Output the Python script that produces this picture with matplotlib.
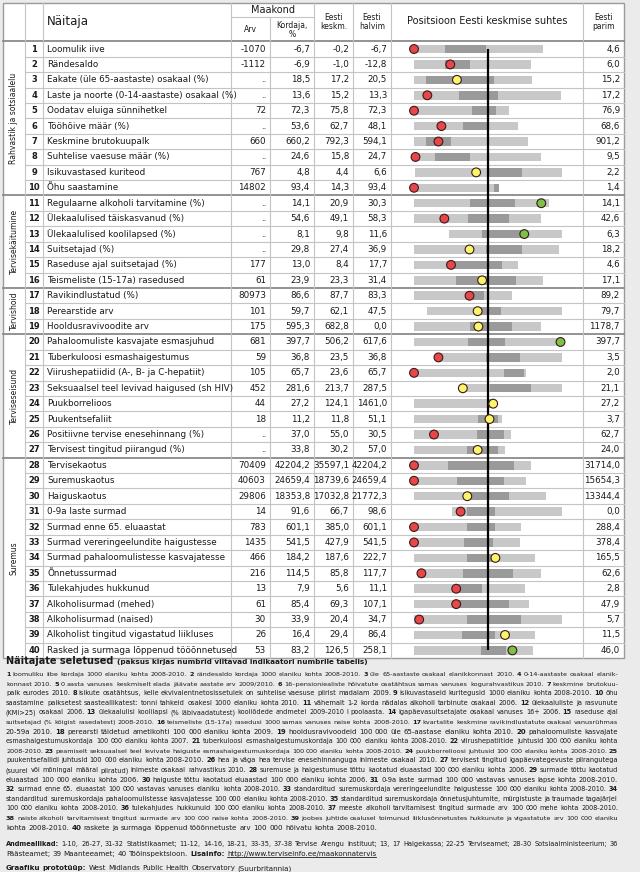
import matplotlib
matplotlib.use("Agg")
import matplotlib.pyplot as plt
import numpy as np

plt.rcParams['font.family'] = ['Liberation Sans Narrow', 'DejaVu Sans']

# ---------------------------------------------------------------------------
# Table data

names = ["Loomulik iive", "Rändesaldo", "Eakate (üle 65-aastaste) osakaal (%)",
         "Laste ja noorte (0-14-aastaste) osakaal (%)", "Oodatav eluiga sünnihetkel",
         "Tööhõive määr (%)", "Keskmine brutokuupalk", "Suhtelise vaesuse määr (%)",
         "Isikuvastased kuriteod", "Õhu saastamine",
         "Regulaarne alkoholi tarvitamine (%)", "Ülekaalulised täiskasvanud (%)",
         "Ülekaalulised koolilapsed (%)", "Suitsetajad (%)",
         "Raseduse ajal suitsetajad (%)", "Teismeliste (15-17a) rasedused",
         "Ravikindlustatud (%)", "Perearstide arv", "Hooldusravivoodite arv",
         "Pahaloomuliste kasvajate esmasjuhud", "Tuberkuloosi esmashaigestumus",
         "Viirushepatiidid (A-, B- ja C-hepatiit)", "Seksuaalsel teel levivad haigused (sh HIV)",
         "Puukborrelioos", "Puukentsefaliit", "Positiivne tervise enesehinnang (%)",
         "Tervisest tingitud piirangud (%)",
         "Tervisekaotus", "Suremuskaotus", "Haiguskaotus", "0-9a laste surmad",
         "Surmad enne 65. eluaastat", "Surmad vereringeelundite haigustesse",
         "Surmad pahaloomulistesse kasvajatesse", "Õnnetussurmad",
         "Tulekahjudes hukkunud", "Alkoholisurmad (mehed)", "Alkoholisurmad (naised)",
         "Alkoholist tingitud vigastatud liikluses", "Rasked ja surmaga lõppenud tööõnnetused"]

arv = ["-1070", "-1112", "..", "..", "72", "..", "660", "..", "767", "14802",
       "..", "..", "..", "..", "177", "61", "80973", "101", "175",
       "681", "59", "105", "452", "44", "18", "..", "..",
       "70409", "40603", "29806", "14", "783", "1435", "466", "216", "13", "61", "30", "26", "53"]

kordaja = ["-6,7", "-6,9", "18,5", "13,6", "72,3", "53,6", "660,2", "24,6", "4,8", "93,4",
           "14,1", "54,6", "8,1", "29,8", "13,0", "23,9", "86,6", "59,7", "595,3",
           "397,7", "36,8", "65,7", "281,6", "27,2", "11,2", "37,0", "33,8",
           "42204,2", "24659,4", "18353,8", "91,6", "601,1", "541,5", "184,2", "114,5",
           "7,9", "85,4", "33,9", "16,4", "83,2"]

keskm = ["-0,2", "-1,0", "17,2", "15,2", "75,8", "62,7", "792,3", "15,8", "4,4", "14,3",
         "20,9", "49,1", "9,8", "27,4", "8,4", "23,3", "87,7", "62,1", "682,8",
         "506,2", "23,5", "23,6", "213,7", "124,1", "11,8", "55,0", "30,2",
         "35597,1", "18739,6", "17032,8", "66,7", "385,0", "427,9", "187,6", "85,8",
         "5,6", "69,3", "20,4", "29,4", "126,5"]

halvim = ["-6,7", "-12,8", "20,5", "13,3", "72,3", "48,1", "594,1", "24,7", "6,6", "93,4",
          "30,3", "58,3", "11,6", "36,9", "17,7", "31,4", "83,3", "47,5", "0,0",
          "617,6", "36,8", "65,7", "287,5", "1461,0", "51,1", "30,5", "57,0",
          "42204,2", "24659,4", "21772,3", "98,6", "601,1", "541,5", "222,7", "117,7",
          "11,1", "107,1", "34,7", "86,4", "258,1"]

parim = ["4,6", "6,0", "15,2", "17,2", "76,9", "68,6", "901,2", "9,5", "2,2", "1,4",
         "14,1", "42,6", "6,3", "18,2", "4,6", "17,1", "89,2", "79,7", "1178,7",
         "397,7", "3,5", "2,0", "21,1", "27,2", "3,7", "62,7", "24,0",
         "31714,0", "15654,3", "13344,4", "0,0", "288,4", "378,4", "165,5", "62,6",
         "2,8", "47,9", "5,7", "11,5", "46,0"]

groups = [("Rahvastik ja sotsiaalelu", 1, 10), ("Tervisekäitumine", 11, 16),
          ("Tervishoid", 17, 19), ("Terviseseisund", 20, 27), ("Suremus", 28, 40)]

# spine chart, position relative to Estonian average (0), worst end = -100
bar_lo = [-100, -100, -100, -100, -100, -100, -100, -98, -98, -100,
          -100, -100, -53, -100, -100, -100, -100, -82, -100,
          -100, -67, -100, -34, -100, -100, -100, -100,
          -100, -100, -100, -48, -100, -100, -100, -94, -100, -100, -100, -100, -100]
bar_hi = [75, 58, 59, 98, 29, 40, 54, 71, 100, 15,
          82, 71, 100, 96, 41, 75, 32, 100, 72,
          100, 100, 52, 100, 3, 19, 31, 23,
          58, 52, 78, 100, 44, 43, 64, 72, 50, 56, 100, 64, 61]
q_lo = [-58, -58, -84, -39, -21, -34, -84, -71, 0, 8,
        -25, -27, -8, -3, -50, -43, -25, -14, -25,
        -27, -3, 22, 3, 0, -13, -15, -29,
        -54, -42, -28, -29, -28, -32, -29, -34, -43, -43, -29, -35, -9]
q_hi = [-3, -25, 8, 14, 11, 0, -50, -25, 46, 15,
        36, 29, 47, 46, 19, 38, -6, 17, 33,
        23, 43, 48, 58, 8, 13, 22, 13,
        35, 21, 29, 9, 9, 7, 8, 34, -8, 28, 44, 9, 25]
dot = [-100, -51, -42, -82, -100, -63, -67, -98, -16, -100,
       72, -59, 49, -25, -50, -8, -25, -14, -13,
       98, -67, -100, -34, 7, 2, -73, -14,
       -100, -100, -28, -37, -100, -100, 10, -90, -43, -43, -93, 23, 33]
status = list("rryrrrrryr" "grgyry" "ryy" "grryyyry" "rryrrryrrrryg")

notes = [
    "**1** loomuliku iibe kordaja 1000 elaniku kohta 2008-2010. **2** rändesaldo kordaja 1000 elaniku kohta 2008-2010. **3** üle 65-aastaste osakaal elanikkonnast 2010. **4** 0-14-aastaste osakaal elanik-",
    "konnast 2010. **5** 0 aasta vanuses keskmiselt elada jäävate aastate arv 2009/2010. **6** 16–pensioniealiste hõivatute osatähtsus samas vanuses kogurahvastikus 2010. **7** keskmine brutokuu-",
    "palk eurodes 2010. **8** isikute osatähtsus, kelle ekvivalentnetosissetulek on suhtelise vaesuse piirist madalam 2009. **9** isikuvastaseid kuritegusid 1000 elaniku kohta 2008-2010. **10** õhu",
    "saastamine paiksetest saasteallikatest: tonni tahkeid osakesi 1000 elaniku kohta 2010. **11** vähemalt 1-2 korda nädalas alkoholi tarbinute osakaal 2006. **12** ülekaaluliste ja rasvunute",
    "(KMI>25) osakaal 2006. **13** ülekaalulisi koolilapsi (% läbivaadatutest) kooliõdede andmetel 2009-2010 I poolaasta. **14** igapäevasuitsetajate osakaal vanuses 16+ 2006. **15** raseduse ajal",
    "suitsetajad (% kõigist rasedatest) 2008-2010. **16** teismeliste (15-17a) rasedusi 1000 samas vanuses naise kohta 2008-2010. **17** kvartalite keskmine ravikindlustatute osakaal vanusrühmas",
    "20-59a 2010. **18** perearsti täidetud ametikohti 100 000 elaniku kohta 2009. **19** hooldusravivoodeid 100 000 üle 65-aastase elaniku kohta 2010. **20** pahaloomuliste kasvajate",
    "esmashaigestumuskordaja 100 000 elaniku kohta 2007. **21** tuberkuloosi esmashaigestumuskordaja 100 000 elaniku kohta 2008-2010. **22** viirushepatiitide juhtusid 100 000 elaniku kohta",
    "2008-2010. **23** peamiselt seksuaalsel teel levivate haiguste esmashaigestumuskordaja 100 000 elaniku kohta 2008-2010. **24** puukborrelioosi juhtusid 100 000 elaniku kohta 2008-2010. **25**",
    "puukentsefaliidi juhtusid 100 000 elaniku kohta 2008-2010. **26** hea ja väga hea tervise enesehinnanguga inimeste osakaal 2010. **27** tervisest tingitud igapäevategevuste piirangutega",
    "(suurel või mõningal määral piiratud) inimeste osakaal rahvastikus 2010. **28** suremuse ja haigestumuse tõttu kaotatud eluaastad 100 000 elaniku kohta 2006. **29** surmade tõttu kaotatud",
    "eluaastad 100 000 elaniku kohta 2006. **30** haiguste tõttu kaotatud eluaastad 100 000 elaniku kohta 2006. **31** 0-9a laste surmad 100 000 vastavas vanuses lapse kohta 2008-2010.",
    "**32** surmad enne 65. eluaastat 100 000 vastavas vanuses elaniku kohta 2008-2010. **33** standarditud suremuskordaja vereringeelundite haigustesse 100 000 elaniku kohta 2008-2010. **34**",
    "standarditud suremuskordaja pahaloomulistesse kasvajatesse 100 000 elaniku kohta 2008-2010. **35** standarditud suremuskordaja õnnetusjuhtumite, mürgistuste ja traumade tagajärjel",
    "100 000 elaniku kohta 2008-2010. **36** tulekahjudes hukkunuid 100 000 elaniku kohta 2008-2010. **37** meeste alkoholi tarvitamisest tingitud surmade arv 100 000 mehe kohta 2008-2010.",
    "**38** naiste alkoholi tarvitamisest tingitud surmade arv 100 000 naise kohta 2008-2010. **39** joobes juhtide osalusel toimunud liiklusõnnetustes hukkunute ja vigastatute arv 100 000 elaniku",
    "kohta 2008-2010. **40** raskete ja surmaga lõppenud tööõnnetuste arv 100 000 hõivatu kohta 2008-2010.",
]
sources = [
    "**Andmeallikad:** 1-10, 26-27, 31-32 Statistikaamet; 11-12, 14-16, 18-21, 33-35, 37-38 Tervise Arengu Instituut; 13, 17 Haigekassa; 22-25 Terviseamet; 28-30 Sotsiaalministeerium; 36",
    "Päästeamet; 39 Maanteeamet; 40 Tööinspektsioon. **Lisainfo:** __http://www.terviseinfo.ee/maakonnatervis__",
]
credit = "**Graafiku prototüüp:** West Midlands Public Health Observatory (Suurbritannia)"

# ---------------------------------------------------------------------------
# layout / style

TXT = '#1a1a1a'
LINE = '#c4c4c4'
DARKLINE = '#8a8a8a'
LIGHT = '#c8c8c8'
DARK = '#9a9a9a'
DOTCOL = {'r': '#e8474a', 'y': '#fbf56a', 'g': '#7dc245'}

TOP, ROW_H = 41.3, 15.42
LEFT, RIGHT = 3, 624
BOTTOM = TOP + 40 * ROW_H
cols = [25, 43, 231, 270, 314, 353, 391, 583]

fig = plt.figure(figsize=(6.4, 8.72), dpi=100, facecolor='#ebebeb')
ax = fig.add_axes([0, 0, 1, 1])
ax.set_xlim(0, 640)
ax.set_ylim(872, 0)
ax.axis('off')

ax.add_patch(plt.Rectangle((LEFT, 3), RIGHT - LEFT, BOTTOM - 3, facecolor='white',
                           edgecolor='#9a9a9a', lw=1.0, zorder=0))


def yc(i):
    return TOP + (i - 0.5) * ROW_H


# horizontal lines
bounds = [g[2] for g in groups[:-1]]
for i in range(1, 40):
    y = TOP + i * ROW_H
    if i in bounds:
        ax.plot([LEFT, RIGHT], [y, y], color=DARKLINE, lw=1.3, zorder=1)
    else:
        ax.plot([cols[0], RIGHT], [y, y], color=LINE, lw=0.8, zorder=1)
ax.plot([LEFT, RIGHT], [TOP, TOP], color=DARKLINE, lw=1.3, zorder=1)
ax.plot([cols[2], cols[4]], [17, 17], color=LINE, lw=0.8, zorder=1)

# vertical lines
for x in cols:
    y0 = 17 if x == 270 else 3
    ax.plot([x, x], [y0, BOTTOM], color=LINE, lw=0.8, zorder=1)

# header
ax.text(47, 22, "Näitaja", fontsize=8.5, color=TXT, va='center')
ax.text((cols[2] + cols[4]) / 2, 10, "Maakond", fontsize=7, color=TXT, ha='center', va='center')
ax.text((cols[2] + cols[3]) / 2, 30, "Arv", fontsize=5.5, color=TXT, ha='center', va='center')
ax.text((cols[3] + cols[4]) / 2, 30, "Kordaja,\n%", fontsize=5.5, color=TXT, ha='center',
        va='center', linespacing=0.9)
ax.text((cols[4] + cols[5]) / 2, 22, "Eesti\nkeskm.", fontsize=5.5, color=TXT, ha='center',
        va='center', linespacing=0.95)
ax.text((cols[5] + cols[6]) / 2, 22, "Eesti\nhalvim", fontsize=5.5, color=TXT, ha='center',
        va='center', linespacing=0.95)
ax.text((cols[6] + cols[7]) / 2, 21, "Positsioon Eesti keskmise suhtes", fontsize=7, color=TXT,
        ha='center', va='center')
ax.text((cols[7] + RIGHT) / 2, 22, "Eesti\nparim", fontsize=5.5, color=TXT, ha='center',
        va='center', linespacing=0.95)

# group labels
for label, a, b in groups:
    ax.text(14, (yc(a) + yc(b)) / 2, label, rotation=90, fontsize=5.5, color=TXT,
            ha='center', va='center')

# rows
for i in range(40):
    y = yc(i + 1)
    ax.text(34, y, str(i + 1), fontsize=6, fontweight='bold', color=TXT, ha='center', va='center')
    ax.text(47, y, names[i], fontsize=6.3, color=TXT, va='center')
    for x, col in zip([266, 310, 349, 387, 620], [arv, kordaja, keskm, halvim, parim]):
        ax.text(x, y, col[i], fontsize=6.3, color=TXT, ha='right', va='center')

# spine chart
ax2 = fig.add_axes([cols[6] / 640, (872 - BOTTOM) / 872, (cols[7] - cols[6]) / 640,
                    (BOTTOM - TOP) / 872])
ax2.set_xlim(-131.1, 128.4)
ax2.set_ylim(40.5, 0.5)
ax2.axis('off')
rows = np.arange(1, 41)
lo, hi = np.array(bar_lo), np.array(bar_hi)
ql, qh = np.array(q_lo), np.array(q_hi)
ax2.barh(rows, hi - lo, left=lo, height=0.55, color=LIGHT, zorder=1)
ax2.barh(rows, qh - ql, left=ql, height=0.55, color=DARK, zorder=2)
ax2.vlines(0, rows[0], rows[-1], color='black', lw=1.6, zorder=3)
ax2.scatter(dot, rows, s=40, c=[DOTCOL[s] for s in status], edgecolors='#3a1a1a',
            linewidths=0.8, zorder=4)

# ---------------------------------------------------------------------------
# footnotes with bold numbers

renderer = fig.canvas.get_renderer()


def width(s, size, bold):
    # advance width of s: measure it sandwiched between bars
    w = []
    for txt in ('|' + s + '|', '||'):
        t = ax.text(0, 0, txt, fontsize=size, fontweight='bold' if bold else 'normal')
        w.append(t.get_window_extent(renderer).width)
        t.remove()
    return w[0] - w[1]


def tokens(line):
    out = []
    for k, seg in enumerate(line.split('**')):
        for j, sub in enumerate(seg.split('__')):
            for word in sub.split():
                out.append((word, k % 2 == 1, j % 2 == 1))
    return out


FULL = 612


def rich(x, y, line, size, justify=False):
    toks = tokens(line)
    nat = sum(width(w, size, b) for w, b, u in toks) + width(' ', size, False) * (len(toks) - 1)
    if justify:
        size = min(5.6, max(4.5, size * FULL / nat))
    elif nat > FULL:
        size = size * FULL / nat
    widths = [width(w, size, b) for w, b, u in toks]
    gap = width(' ', size, False)
    if justify and len(toks) > 1:
        gap = max(gap * 0.8, (FULL - sum(widths)) / (len(toks) - 1))
    for (w, b, u), wd in zip(toks, widths):
        ax.text(x, y, w, fontsize=size, fontweight='bold' if b else 'normal', color=TXT,
                va='baseline')
        if u:
            ax.plot([x, x + wd], [y + 1.2, y + 1.2], color=TXT, lw=0.6)
        x += wd + gap


ax.text(6, 664, "Näitajate seletused", fontsize=7, fontweight='bold', color=TXT, va='baseline')
ax.text(6 + width("Näitajate seletused ", 7, True), 664,
        "(paksus kirjas numbrid viitavad indikaatori numbrile tabelis)",
        fontsize=5.2, fontweight='bold', color=TXT, va='baseline')

FS = 5.1
for k, line in enumerate(notes):
    rich(6, 676 + k * 9.6, line, FS, justify=(k != len(notes) - 1))
rich(6, 846, sources[0], FS, justify=True)
rich(6, 856, sources[1], FS)
rich(6, 870, credit, FS)

fig.savefig('out.png', dpi=100, facecolor=fig.get_facecolor())
